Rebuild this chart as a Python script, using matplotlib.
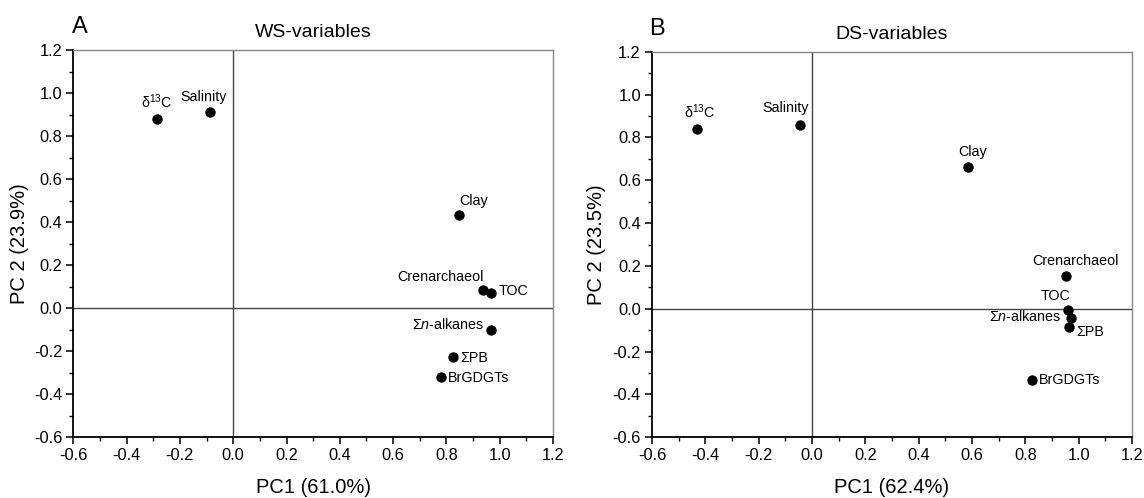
import matplotlib
matplotlib.use("Agg")
import matplotlib.pyplot as plt
from matplotlib.ticker import MultipleLocator

plt.rcParams['font.family'] = ['Liberation Sans', 'DejaVu Sans']
plt.rcParams['mathtext.fontset'] = 'custom'
plt.rcParams['mathtext.rm'] = 'Liberation Sans'
plt.rcParams['mathtext.it'] = 'Liberation Sans:italic'
plt.rcParams['mathtext.default'] = 'regular'

# ---- data ----
labels = [r'δ$^{13}$C', 'Salinity', 'Clay', 'Crenarchaeol', 'TOC',
          r'Σ$\mathit{n}$-alkanes', 'ΣPB', 'BrGDGTs']

ws_pc1 = [-0.287, -0.087, 0.846, 0.939, 0.968, 0.969, 0.824, 0.778]
ws_pc2 = [0.879, 0.912, 0.432, 0.086, 0.072, -0.102, -0.228, -0.318]

ds_pc1 = [-0.430, -0.045, 0.585, 0.951, 0.961, 0.971, 0.962, 0.824]
ds_pc2 = [0.837, 0.856, 0.663, 0.151, -0.004, -0.042, -0.087, -0.331]

ws_xlabel = 'PC1 (61.0%)'
ws_ylabel = 'PC 2 (23.9%)'
ds_xlabel = 'PC1 (62.4%)'
ds_ylabel = 'PC 2 (23.5%)'

# label placement: (dx px, dy px, ha, va)
ws_offsets = [(0, 8, 'center', 'bottom'), (-6, 8, 'center', 'bottom'),
              (1, 7, 'left', 'bottom'), (0, 6, 'right', 'bottom'),
              (7, 2, 'left', 'center'), (-7, 6, 'right', 'center'),
              (7, -1, 'left', 'center'), (7, -1, 'left', 'center')]
ds_offsets = [(2, 8, 'center', 'bottom'), (-14, 10, 'center', 'bottom'),
              (5, 8, 'center', 'bottom'), (10, 8, 'center', 'bottom'),
              (-13, 7, 'center', 'bottom'), (-10, 1, 'right', 'center'),
              (8, -5, 'left', 'center'), (7, 0, 'left', 'center')]

W, H = 1144, 498
fig = plt.figure(figsize=(W / 100, H / 100), dpi=100)

def px_rect(l, r, t, b):
    return [l / W, 1 - b / H, (r - l) / W, (b - t) / H]

axA = fig.add_axes(px_rect(73.3, 553, 50, 437.3))
axB = fig.add_axes(px_rect(652, 1132, 51.7, 437.3))

def draw(ax, xs, ys, offsets, title, xlabel, ylabel, ylab_x):
    ax.set_xlim(-0.6, 1.2)
    ax.set_ylim(-0.6, 1.2)
    ax.axhline(0, color='#444444', lw=1.0, zorder=1)
    ax.axvline(0, color='#444444', lw=1.0, zorder=1)
    ax.scatter(xs, ys, s=56, color='black', zorder=3, linewidths=0)
    for x, y, lab, (dx, dy, ha, va) in zip(xs, ys, labels, offsets):
        ax.annotate(lab, (x, y), xytext=(dx * 0.72, dy * 0.72),
                    textcoords='offset points', ha=ha, va=va,
                    fontsize=10.3, color='black', zorder=4)
    ax.xaxis.set_major_locator(MultipleLocator(0.2))
    ax.xaxis.set_minor_locator(MultipleLocator(0.1))
    ax.yaxis.set_major_locator(MultipleLocator(0.2))
    ax.yaxis.set_minor_locator(MultipleLocator(0.1))
    ax.xaxis.set_major_formatter(lambda v, p: f'{v:.1f}'.replace('-0.0', '0.0'))
    ax.yaxis.set_major_formatter(lambda v, p: f'{v:.1f}'.replace('-0.0', '0.0'))
    ax.tick_params(which='major', direction='out', length=5, width=1.1,
                   labelsize=11.8, pad=3)
    ax.tick_params(which='minor', direction='out', length=3, width=1.0)
    ax.tick_params(top=False, right=False, which='both')
    for s in ['left', 'bottom']:
        ax.spines[s].set_linewidth(1.3)
        ax.spines[s].set_color('black')
    for s in ['top', 'right']:
        ax.spines[s].set_linewidth(1.0)
        ax.spines[s].set_color('#888888')
    ax.set_title(title, fontsize=14, pad=9)
    ax.set_xlabel(xlabel, fontsize=14.5)
    ax.xaxis.set_label_coords(0.5, -0.105)
    ax.set_ylabel(ylabel, fontsize=14.5)
    ax.yaxis.set_label_coords(ylab_x, 0.5)

draw(axA, ws_pc1, ws_pc2, ws_offsets, 'WS-variables', ws_xlabel, ws_ylabel, -0.093)
draw(axB, ds_pc1, ds_pc2, ds_offsets, 'DS-variables', ds_xlabel, ds_ylabel, -0.095)

fig.text(71.5 / W, 1 - 33 / H, 'A', fontsize=17, ha='left', va='baseline')
fig.text(649 / W, 1 - 35 / H, 'B', fontsize=17, ha='left', va='baseline')

fig.savefig('out.png', dpi=100)
